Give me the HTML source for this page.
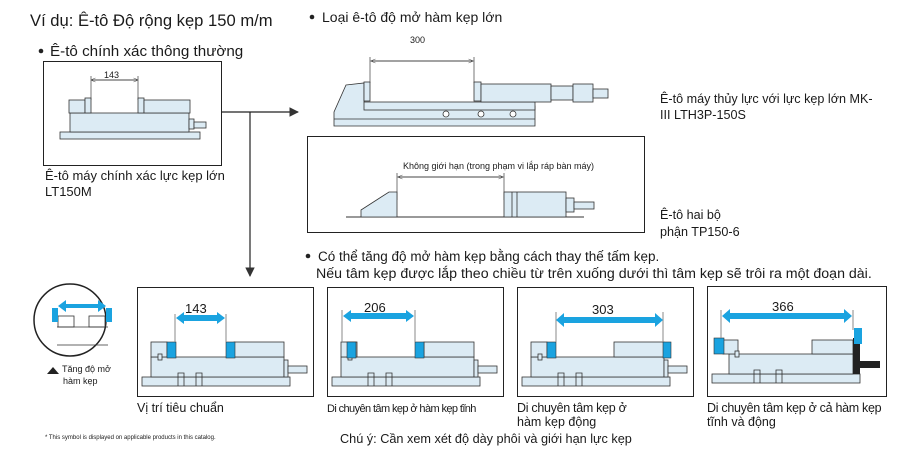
<!DOCTYPE html>
<html><head><meta charset="utf-8"><style>
html,body{margin:0;padding:0;background:#fff}
svg text{font-family:"Liberation Sans","Noto Sans CJK SC",sans-serif;fill:#1a1a1a}
</style></head><body>
<svg width="897" height="464" viewBox="0 0 897 464" xmlns="http://www.w3.org/2000/svg">
<defs>
<marker id="ah" viewBox="0 0 10 10" refX="9" refY="5" markerWidth="8" markerHeight="8" orient="auto-start-reverse"><path d="M0,0 L10,5 L0,10 z" fill="#333"/></marker>
<marker id="sa" viewBox="0 0 10 10" refX="9" refY="5" markerWidth="5" markerHeight="5" orient="auto-start-reverse"><path d="M0,1 L10,5 L0,9" fill="none" stroke="#444"/></marker>
</defs>
<g font-size="15">
<text x="30" y="26" font-size="16.6">Ví dụ: Ê-tô Độ rộng kẹp 150 m/m</text>
<circle cx="41" cy="51" r="2.3" fill="#222"/><text x="50" y="56" font-size="15.2">Ê-tô chính xác thông thường</text>
<circle cx="312" cy="17" r="2.3" fill="#222"/><text x="322" y="22" font-size="14">Loại ê-tô độ mở hàm kẹp lớn</text>
</g>
<!-- box 1 -->
<rect x="43.5" y="61.5" width="178" height="104" fill="#fff" stroke="#222"/>
<line x1="91" y1="80" x2="138" y2="80" stroke="#444" marker-start="url(#sa)" marker-end="url(#sa)"/>
<line x1="91" y1="76" x2="91" y2="100" stroke="#777"/><line x1="138" y1="76" x2="138" y2="100" stroke="#777"/>
<text x="104" y="78" font-size="9">143</text>
<g fill="#dcebf4" stroke="#333" stroke-width="0.8">
<rect x="60" y="132" width="140" height="7"/>
<rect x="70" y="113" width="119" height="19"/>
<rect x="69" y="100" width="16" height="13"/><rect x="85" y="98" width="6" height="15"/>
<rect x="138" y="98" width="6" height="15"/><rect x="144" y="100" width="46" height="13"/>
<rect x="189" y="119" width="5" height="10"/><rect x="194" y="122" width="12" height="6"/>
</g>
<text x="45" y="180" font-size="13">Ê-tô máy chính xác lực kẹp lớn</text>
<text x="45" y="196" font-size="13">LT150M</text>
<!-- connectors -->
<line x1="221" y1="112" x2="298" y2="112" stroke="#222" stroke-width="1.2" marker-end="url(#ah)"/>
<line x1="250" y1="112" x2="250" y2="276" stroke="#222" stroke-width="1.2" marker-end="url(#ah)"/>
<!-- big vise -->
<text x="410" y="43" font-size="9">300</text>
<line x1="371" y1="61" x2="473" y2="61" stroke="#444" marker-start="url(#sa)" marker-end="url(#sa)"/>
<line x1="370" y1="57" x2="370" y2="83" stroke="#777"/><line x1="474" y1="57" x2="474" y2="83" stroke="#777"/>
<g fill="#dcebf4" stroke="#333" stroke-width="0.8">
<path d="M346,85 L364,83 L364,101 L365,106 L535,106 L535,126 L334,126 L334,112 Z"/>
<rect x="364" y="102" width="171" height="8"/>
<line x1="334" y1="119" x2="535" y2="119"/>
<rect x="364" y="82" width="6" height="19"/>
<rect x="474" y="82" width="7" height="19"/><rect x="481" y="84" width="70" height="18"/>
<rect x="551" y="86" width="22" height="14"/><rect x="573" y="84" width="20" height="18"/><rect x="593" y="89" width="15" height="9"/>
<circle cx="446" cy="114" r="3" fill="#fff"/><circle cx="481" cy="114" r="3" fill="#fff"/><circle cx="513" cy="114" r="3" fill="#fff"/>
</g>
<text x="660" y="103" font-size="12.6">Ê-tô máy thủy lực với lực kẹp lớn MK-</text>
<text x="660" y="119" font-size="12.6">III LTH3P-150S</text>
<!-- box 2 -->
<rect x="307.5" y="136.5" width="337" height="96" fill="#fff" stroke="#222"/>
<text x="403" y="169" font-size="9">Không giới hạn (trong  phạm vi lắp ráp bàn máy)</text>
<line x1="398" y1="177" x2="503" y2="177" stroke="#444" marker-start="url(#sa)" marker-end="url(#sa)"/>
<line x1="397" y1="173" x2="397" y2="200" stroke="#777"/><line x1="504" y1="173" x2="504" y2="200" stroke="#777"/>
<line x1="346" y1="217" x2="584" y2="217" stroke="#333"/>
<g fill="#dcebf4" stroke="#333" stroke-width="0.8">
<path d="M361,217 L361,210 L389,192 L397,192 L397,217 Z"/>
<rect x="504" y="192" width="62" height="25"/><line x1="512" y1="192" x2="512" y2="217"/><line x1="517" y1="192" x2="517" y2="217"/>
<rect x="566" y="198" width="8" height="14"/><rect x="574" y="202" width="20" height="7"/>
</g>
<text x="660" y="219" font-size="12.6">Ê-tô hai bộ</text>
<text x="660" y="236" font-size="12.6">phận TP150-6</text>
<circle cx="308" cy="256" r="2.3" fill="#222"/>
<text x="318" y="261" font-size="13.5">Có thể tăng độ mở hàm kẹp bằng cách thay thế tấm kẹp.</text>
<text x="316" y="278" font-size="14.2">Nếu tâm kẹp được lắp theo chiều từ trên xuống dưới thì tâm kẹp sẽ trôi ra một đoạn dài.</text>
<!-- circle symbol -->
<circle cx="70" cy="320" r="36" fill="#fff" stroke="#222" stroke-width="1.5"/>
<g stroke="#333" stroke-width="0.8" fill="#fff">
<rect x="58" y="316" width="16" height="11"/><rect x="89" y="316" width="16" height="11"/>
<line x1="57" y1="327" x2="108" y2="327"/><line x1="57" y1="345" x2="108" y2="345"/>
</g>
<rect x="52" y="308" width="6" height="14" fill="#1aa3e0"/><rect x="106" y="308" width="6" height="14" fill="#1aa3e0"/>
<path d="M58,306 L66,300 L66,304 L98,304 L98,300 L106,306 L98,312 L98,308 L66,308 L66,312 Z" fill="#1aa3e0"/>
<path d="M47,374 L53,367 L59,374 Z" fill="#222"/>
<text x="62" y="372" font-size="9">Tăng độ mở</text>
<text x="63" y="384" font-size="9">hàm kẹp</text>
<text x="45" y="439" font-size="6">* This symbol is displayed on applicable products in this catalog.</text>
<!-- bottom boxes -->
<g fill="#fff" stroke="#222">
<rect x="137.5" y="287.5" width="176" height="109"/>
<rect x="327.5" y="287.5" width="176" height="109"/>
<rect x="517.5" y="287.5" width="176" height="109"/>
<rect x="707.5" y="286.5" width="179" height="110"/>
</g>
<g id="v1">
<g fill="#dcebf4" stroke="#333" stroke-width="0.8">
<rect x="142" y="377" width="148" height="9"/>
<rect x="151" y="357" width="133" height="20"/>
<rect x="151" y="342" width="16" height="15"/><rect x="234" y="342" width="50" height="15"/>
<rect x="284" y="360" width="4" height="17"/><rect x="288" y="366" width="19" height="7"/>
<rect x="158" y="354" width="4" height="6"/>
<path d="M178,386 L178,373 L184,373 L184,386 M196,386 L196,373 L202,373 L202,386" fill="none"/>
</g>
</g>
<rect x="167" y="342" width="9" height="16" fill="#1aa3e0" stroke="#333" stroke-width="0.6"/>
<rect x="226" y="342" width="9" height="16" fill="#1aa3e0" stroke="#333" stroke-width="0.6"/>
<line x1="175" y1="314" x2="175" y2="342" stroke="#888"/><line x1="226" y1="314" x2="226" y2="342" stroke="#888"/>
<path d="M176,318 L184,312 L184,315 L217,315 L217,312 L225,318 L217,324 L217,321 L184,321 L184,324 Z" fill="#1aa3e0"/>
<text x="185" y="313" font-size="13">143</text>

<use href="#v1" x="190"/>
<rect x="347" y="342" width="9" height="16" fill="#1aa3e0" stroke="#333" stroke-width="0.6"/>
<rect x="415" y="342" width="9" height="16" fill="#1aa3e0" stroke="#333" stroke-width="0.6"/>
<line x1="342" y1="310" x2="342" y2="342" stroke="#888"/><line x1="415" y1="310" x2="415" y2="342" stroke="#888"/>
<path d="M343,316 L351,310 L351,313 L406,313 L406,310 L414,316 L406,322 L406,319 L351,319 L351,322 Z" fill="#1aa3e0"/>
<text x="364" y="312" font-size="13">206</text>

<use href="#v1" x="380"/>
<rect x="547" y="342" width="9" height="16" fill="#1aa3e0" stroke="#333" stroke-width="0.6"/>
<rect x="663" y="342" width="8" height="16" fill="#1aa3e0" stroke="#333" stroke-width="0.6"/>
<line x1="556" y1="312" x2="556" y2="342" stroke="#888"/><line x1="663" y1="312" x2="663" y2="342" stroke="#888"/>
<path d="M556,320 L564,313 L564,317 L655,317 L655,313 L663,320 L655,327 L655,323 L564,323 L564,327 Z" fill="#1aa3e0"/>
<text x="592" y="314" font-size="13">303</text>

<g fill="#dcebf4" stroke="#333" stroke-width="0.8">
<rect x="712" y="374" width="148" height="9"/>
<rect x="729" y="354" width="124" height="20"/>
<rect x="723" y="340" width="15" height="14"/><rect x="812" y="340" width="41" height="14"/>
<rect x="735" y="351" width="4" height="6"/>
<path d="M754,383 L754,370 L760,370 L760,383 M776,383 L776,370 L782,370 L782,383" fill="none"/>
</g>
<rect x="853" y="338" width="7" height="36" fill="#222"/>
<rect x="860" y="361" width="20" height="7" fill="#222"/>
<rect x="714" y="338" width="10" height="16" fill="#1aa3e0" stroke="#333" stroke-width="0.6"/>
<rect x="854" y="328" width="8" height="16" fill="#1aa3e0"/>
<line x1="721" y1="310" x2="721" y2="338" stroke="#888"/><line x1="853" y1="310" x2="853" y2="330" stroke="#888"/>
<path d="M722,316 L730,309 L730,313 L844,313 L844,309 L852,316 L844,323 L844,319 L730,319 L730,323 Z" fill="#1aa3e0"/>
<text x="772" y="311" font-size="13">366</text>

<g font-size="12.5">
<text x="137" y="412">Vị trí tiêu chuẩn</text>
<text x="327" y="412" font-size="11" letter-spacing="-0.6">Di chuyên tâm kẹp ở hàm kẹp tĩnh</text>
<text x="517" y="412" letter-spacing="-0.3">Di chuyên tâm kẹp ở</text>
<text x="517" y="426">hàm kẹp động</text>
<text x="707" y="412" letter-spacing="-0.3">Di chuyên tâm kẹp ở cả hàm kẹp</text>
<text x="707" y="426">tĩnh và động</text>
<text x="340" y="443" font-size="12.7">Chú ý: Cần xem xét độ dày phôi và giới hạn lực kẹp</text>
</g>
</svg>
</body></html>
